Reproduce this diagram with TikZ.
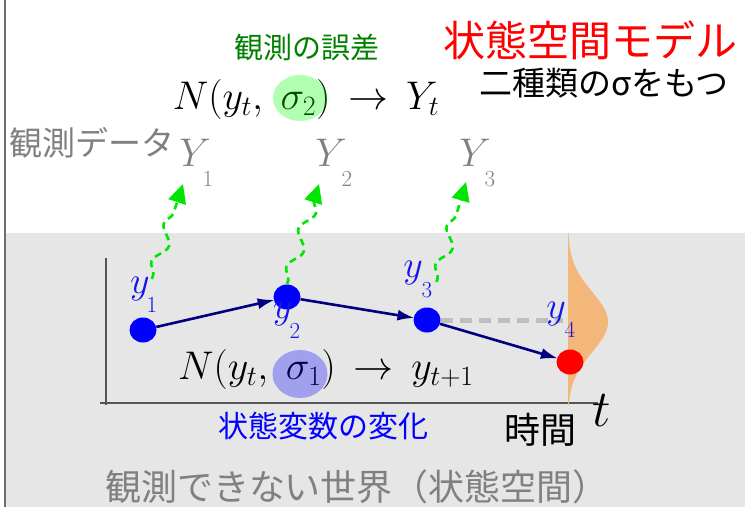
\RequirePackage{fix-cm}
\documentclass[tikz,border=0pt]{standalone}
\usepackage{fontspec}
\newfontfamily\jp{Noto Sans CJK JP}
\usetikzlibrary{shapes.geometric,arrows.meta,decorations.pathmorphing}
\definecolor{bggray}{RGB}{230,230,230}
\definecolor{framegray}{RGB}{110,110,110}
\definecolor{axisgray}{RGB}{85,85,85}
\definecolor{txtgray}{RGB}{128,128,128}
\definecolor{obsgreen}{RGB}{0,128,0}
\definecolor{arrgreen}{RGB}{0,230,0}
\definecolor{dotblue}{RGB}{0,0,255}
\definecolor{lblblue}{RGB}{20,20,235}
\definecolor{navyc}{RGB}{0,0,128}
\definecolor{gausscol}{RGB}{244,183,122}
\definecolor{dashgray}{RGB}{190,190,190}
\newcommand{\fsz}[1]{\fontsize{#1}{#1}\selectfont}
\tikzset{
  jptext/.style={inner sep=0pt, font=\jp},
  mathtext/.style={inner sep=0pt},
  dot/.style={ellipse, inner sep=0pt, minimum width=27pt, minimum height=25pt},
  statearrow/.style={navyc, line width=2.6pt, -{Latex[length=17pt,width=11pt]}, shorten >=-1pt},
  obsarrow/.style={arrgreen, line width=2.6pt, dash pattern=on 7pt off 5pt,
    decorate, decoration={snake, amplitude=6pt, segment length=40pt, pre length=4pt, post length=16pt},
    -{Triangle[length=19pt,width=18pt]}},
  axis/.style={axisgray, line width=2pt},
  ylab/.style={inner sep=0pt, text=lblblue, font=\fsz{38}},
  ysub/.style={inner sep=0pt, text=lblblue, font=\fsz{23}},
  Ylab/.style={inner sep=0pt, text=txtgray, font=\fsz{40}},
  Ysub/.style={inner sep=0pt, text=txtgray, font=\fsz{23}},
  sigmaell/.style={ellipse, inner sep=0pt, opacity=0.3},
}
\begin{document}
\begin{tikzpicture}[x=1pt,y=-1pt]
\useasboundingbox (0,0) rectangle (745,507);
% background region (unobservable world)
\fill[bggray] (6,233) rectangle (745,507);
\draw[framegray, line width=2pt] (5,0) -- (5,507);

% axes
\coordinate (ytop) at (106,258);
\coordinate (ybot) at (106,405);
\coordinate (xstart) at (100,403);
\coordinate (xend) at (598,403);
\draw[axis] (ytop) -- (ybot);
\draw[axis] (xstart) -- (xend);

% predictive distribution
\fill[gausscol] (568,233) -- plot[domain=233:405, samples=80] ({568+40*exp(-((\x-322)*(\x-322))/1800)}, \x) -- (568,405) -- cycle;

% state dots
\node[dot, fill=dotblue] (d1) at (143,330) {};
\node[dot, fill=dotblue] (d2) at (287,297) {};
\node[dot, fill=dotblue] (d3) at (427,320) {};
\coordinate (dashend) at (563,320);
\draw[dashgray, line width=5pt, dash pattern=on 12pt off 7pt] (d3.east) -- (dashend);
\node[dot, fill=red] (d4) at (570,362) {};

\draw[statearrow] (d1) -- (d2);
\draw[statearrow] (d2) -- (d3);
\draw[statearrow] (d3) -- (d4);

% state labels
\node[ylab] (y1) at (140,289) {$y$};
\node[ysub] (y1s) at (152,305) {1};
\node[ylab] (y2) at (283,314) {$y$};
\node[ysub] (y2s) at (295,331) {2};
\node[ylab] (y3) at (413,273) {$y$};
\node[ysub] (y3s) at (427,290) {3};
\node[ylab] (y4) at (556,314) {$y$};
\node[ysub] (y4s) at (570,330) {4};

% observed data labels
\node[Ylab] (Y1) at (195,153) {$Y$};
\node[Ysub] (Y1s) at (208,179) {1};
\node[Ylab] (Y2) at (331,153) {$Y$};
\node[Ysub] (Y2s) at (347,179) {2};
\node[Ylab] (Y3) at (475,153) {$Y$};
\node[Ysub] (Y3s) at (490,179) {3};

% observation arrows
\coordinate (tip1) at (183,184);
\coordinate (tip2) at (319,184);
\coordinate (tip3) at (466,182);
\draw[obsarrow] ([xshift=2pt,yshift=-2pt]y1.north east) -- (tip1);
\draw[obsarrow] (d2.north) -- (tip2);
\draw[obsarrow] ([xshift=4pt]y3s.north east) -- (tip3);

% equations
\node[mathtext] (eqobs) at (306,99) {\fsz{40}$N(y_t,\;\sigma_2)\mathrel{\,\to\,}Y_t$};
\node[sigmaell, fill=green, minimum width=54pt, minimum height=46pt] (sig2) at (300,98) {};
\node[mathtext] (eqstate) at (326,369) {\fsz{40}$N(y_t,\;\sigma_1)\mathrel{\,\to\,}y_{t+1}$};
\node[sigmaell, fill=blue, minimum width=55pt, minimum height=48pt] (sig1) at (300,374) {};

% texts
\node[jptext, text=obsgreen, font=\jp\fsz{29}] (obserr) at (307,47) {観測の誤差};
\node[jptext, text=red, font=\jp\fsz{42}] (title) at (590,40) {状態空間モデル};
\node[jptext, text=black, font=\jp\fsz{33}] (sub) at (604,83) {二種類のσをもつ};
\node[jptext, text=txtgray, font=\jp\fsz{33}] (obsdata) at (92,143) {観測データ};
\node[jptext, text=dotblue, font=\jp\fsz{30}] (statechg) at (323,426) {状態変数の変化};
\node[jptext, text=black, font=\jp\fsz{36}] (time) at (540,430) {時間};
\node[mathtext, font=\fsz{52}] (tvar) at (602,411) {$t$};
\node[jptext, text=txtgray, font=\jp\fsz{36}] (unobs) at (357,487) {観測できない世界（状態空間）};
\end{tikzpicture}
\end{document}
